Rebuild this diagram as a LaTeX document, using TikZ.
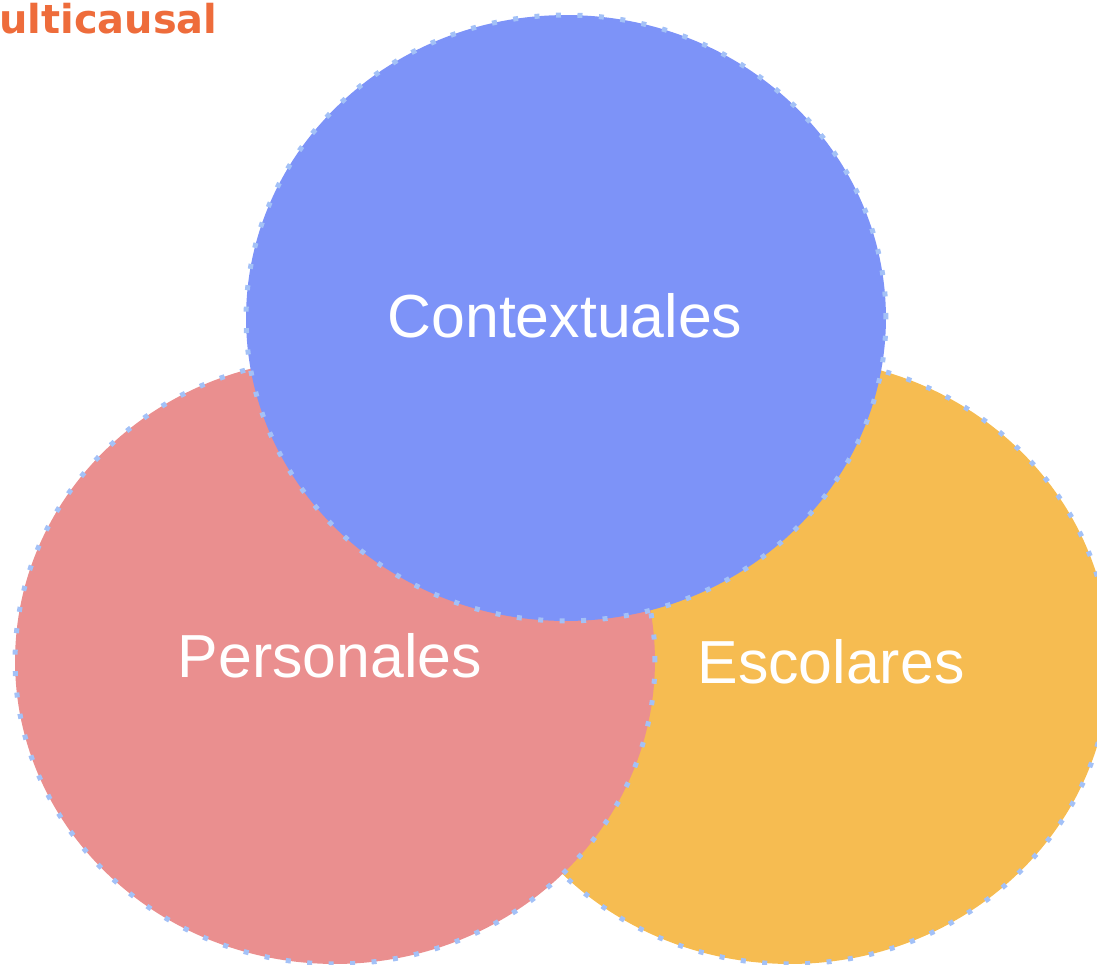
\documentclass[tikz,border=0pt]{standalone}
\usepackage{fontspec}
\setmainfont{Liberation Sans}
\newfontfamily\titrefont{DejaVu Sans}
\usetikzlibrary{shapes.geometric}
\definecolor{fondbleu}{HTML}{7D93F8}
\definecolor{fondrouge}{HTML}{EA8F8F}
\definecolor{fondjaune}{HTML}{F6BC51}
\definecolor{pointille}{HTML}{A3C1F7}
\definecolor{orange}{HTML}{EE6C3B}

\begin{document}
\begin{tikzpicture}[x=0.02cm,y=-0.02cm]
  %
  % Définitions
  %
  \tikzset{
    cercle/.style={ellipse, minimum width=12.8cm, minimum height=12.12cm,
      inner sep=0pt, line width=0.1cm, draw=pointille,
      dash pattern=on 0.1cm off 0.33cm},
    etiquette/.style={text=white, anchor=base, inner sep=0pt,
      font=\fontsize{34.6pt}{40pt}\selectfont},
  }
  \pgfmathsetmacro{\xp}{335};%
  \pgfmathsetmacro{\xe}{790};%
  \pgfmathsetmacro{\xc}{566};%
  \pgfmathsetmacro{\yb}{661};%
  \pgfmathsetmacro{\yh}{318};%

  \useasboundingbox (0,0) rectangle (1097,964);

  %
  % Dessin
  %
  % Titre (coupé)
  \node[anchor=base west, inner sep=0pt, text=orange,
    font=\titrefont\bfseries\fontsize{22.7pt}{26pt}\selectfont]
    (titre) at (-1,33) {ulticausal};

  % Cercles
  \node[cercle, fill=fondjaune] (escolares) at (\xe,\yb) {};
  \node[cercle, fill=fondrouge] (personales) at (\xp,\yb) {};
  \node[cercle, fill=fondbleu] (contextuales) at (\xc,\yh) {};

  % Etiquettes
  \node[etiquette] (lcontextuales) at (565,337) {Contextuales};
  \node[etiquette] (lpersonales) at (330,677) {Personales};
  \node[etiquette] (lescolares) at (831,683) {Escolares};

\end{tikzpicture}
\end{document}
